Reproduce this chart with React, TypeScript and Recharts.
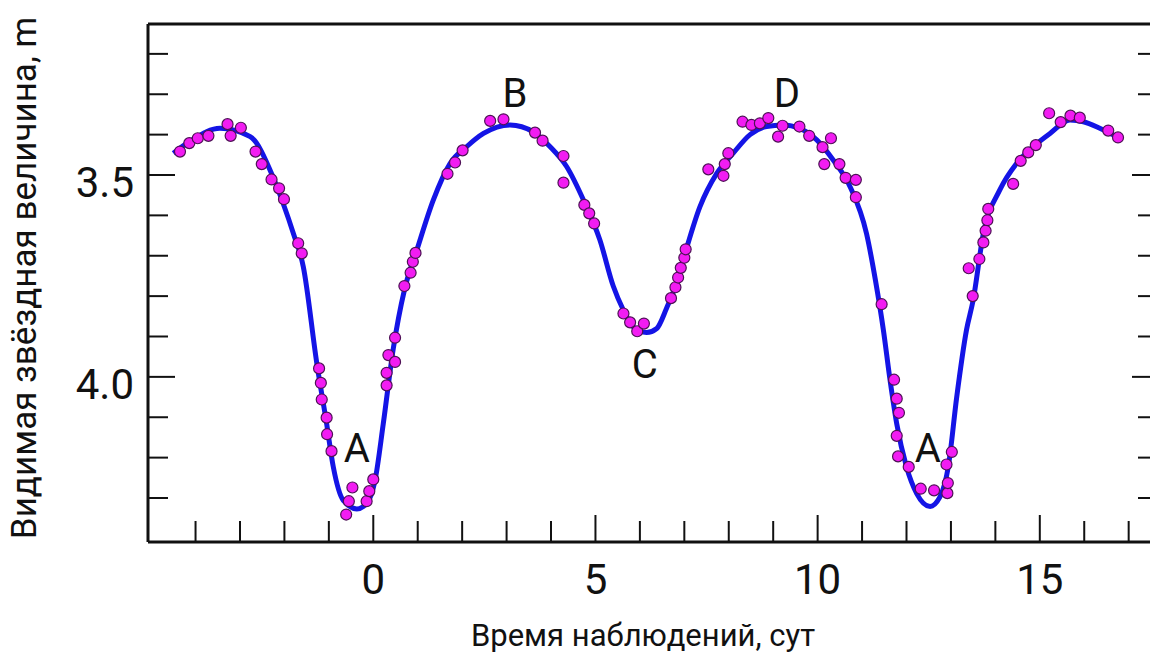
import { ComposedChart, Line, Scatter, XAxis, YAxis, Label } from 'recharts'

// fitted light curve (time, magnitude)
const curveT = [
  -4.5, -4.13, -3.45, -2.77, -2.26, -2.03, -1.8, -1.575, -1.27, -1.05, -0.9, -0.675, -0.37, -0.15, 0.04, 0.225,
  0.45, 0.7, 0.98, 1.35, 1.73, 2.1, 2.48, 3.08, 3.6, 3.98, 4.35, 4.73, 5.1, 5.4, 5.63, 5.85, 6.15, 6.38, 6.6,
  6.8, 7.0, 7.35, 7.73, 8.1, 8.48, 8.85, 9.22, 9.6, 9.98, 10.35, 10.73, 11.1, 11.3, 11.48, 11.63, 11.78, 12.0,
  12.23, 12.53, 12.75, 12.94, 13.13, 13.35, 13.5, 13.73, 14.1, 14.48, 14.85, 15.23, 15.68, 15.98, 16.35, 16.8,
]
const curveM = [
  3.446, 3.417, 3.384, 3.405, 3.504, 3.57, 3.644, 3.727, 3.967, 4.116, 4.223, 4.306, 4.327, 4.314, 4.256, 4.116,
  3.93, 3.785, 3.686, 3.562, 3.471, 3.43, 3.397, 3.376, 3.393, 3.43, 3.479, 3.562, 3.661, 3.775, 3.835, 3.876,
  3.89, 3.88, 3.83, 3.775, 3.7, 3.579, 3.496, 3.446, 3.4, 3.38, 3.376, 3.385, 3.413, 3.463, 3.529, 3.645, 3.76,
  3.884, 4.008, 4.116, 4.223, 4.289, 4.321, 4.298, 4.223, 4.05, 3.884, 3.81, 3.645, 3.537, 3.471, 3.43, 3.397,
  3.364, 3.368, 3.384, 3.409,
]

// observations
const obsT = [
  -4.35, -4.14, -3.95, -3.71, -3.28, -3.21, -2.98, -2.65, -2.51, -2.29, -2.12, -2.01, -1.69, -1.61,
  -1.22, -1.18, -1.16, -1.05, -1.04, -0.94, -0.61, -0.55, -0.47, -0.15, -0.09, 0.0, 0.3, 0.3, 0.34, 0.49, 0.49,
  0.7, 0.84, 0.89, 0.95, 1.67, 1.84, 2.01, 2.63, 2.93, 3.64, 3.81, 4.28, 4.28, 4.75, 4.86, 4.97,
  5.63, 5.78, 5.94, 6.09, 6.7, 6.8, 6.86, 6.92, 7.0, 7.03, 7.54, 7.88, 7.91, 7.99, 8.31,
  8.51, 8.7, 8.89, 9.11, 9.21, 9.59, 9.81, 10.11, 10.3, 10.15, 10.49, 10.63, 10.86, 10.86,
  11.44, 11.72, 11.78, 11.83, 11.78, 11.81, 12.05, 12.32, 12.62, 12.92, 12.93, 12.9, 13.02,
  13.4, 13.49, 13.64, 13.73, 13.78, 13.82, 13.84, 14.4, 14.57, 14.74, 14.91, 15.21, 15.47, 15.69, 15.9, 16.54, 16.76,
]
const obsM = [
  3.442, 3.421, 3.409, 3.403, 3.374, 3.403, 3.383, 3.442, 3.473, 3.511, 3.533, 3.56, 3.669, 3.694,
  3.979, 4.015, 4.056, 4.101, 4.142, 4.184, 4.341, 4.308, 4.274, 4.308, 4.283, 4.254, 3.99, 4.021, 3.946, 3.963, 3.903,
  3.775, 3.742, 3.715, 3.693, 3.497, 3.469, 3.439, 3.366, 3.362, 3.395, 3.415, 3.453, 3.519, 3.574, 3.595, 3.62,
  3.843, 3.865, 3.887, 3.868, 3.805, 3.778, 3.754, 3.73, 3.705, 3.684, 3.486, 3.502, 3.473, 3.446, 3.368,
  3.376, 3.372, 3.359, 3.405, 3.378, 3.38, 3.403, 3.431, 3.409, 3.473, 3.473, 3.507, 3.512, 3.555,
  3.82, 4.007, 4.054, 4.089, 4.146, 4.197, 4.223, 4.277, 4.281, 4.288, 4.263, 4.217, 4.186,
  3.731, 3.8, 3.708, 3.667, 3.638, 3.612, 3.584, 3.522, 3.465, 3.444, 3.426, 3.347, 3.369, 3.353, 3.358, 3.39, 3.407,
]

// letter marks
const markNames = ['A', 'B', 'C', 'D', 'A']
const markT = [-0.37, 3.19, 6.11, 9.31, 12.48]
const markM = [4.212, 3.331, 4.003, 3.331, 4.212]

const tTicks = [-4, -3, -2, -1, 0, 1, 2, 3, 4, 5, 6, 7, 8, 9, 10, 11, 12, 13, 14, 15, 16, 17]
const tLabels = [0, 5, 10, 15]
const mTicks = [3.2, 3.3, 3.4, 3.5, 3.6, 3.7, 3.8, 3.9, 4.0, 4.1, 4.2, 4.3]
const mLabels = [3.5, 4.0]

const tDomain = [-5.07, 17.66]
const mDomain = [3.126, 4.409]

const curve = curveT.map((t, i) => ({ t, m: curveM[i] }))
const obs = obsT.map((t, i) => ({ t, m: obsM[i] }))
const marks = markT.map((t, i) => ({ t, m: markM[i], name: markNames[i] }))

const ink = '#111'

const TimeTick = (props: any) => {
  const { x, y, payload } = props
  const major = tLabels.includes(payload.value)
  return (
    <g>
      <line x1={x} x2={x} y1={y} y2={y - (major ? 27 : 21)} stroke={ink} strokeWidth={2} />
      {major && (
        <text x={x} y={y + 52} textAnchor="middle" fontSize={42} fill={ink}>
          {payload.value}
        </text>
      )}
    </g>
  )
}

const MagTickLeft = (props: any) => {
  const { x, y, payload } = props
  const major = mLabels.some((v) => Math.abs(v - payload.value) < 1e-6)
  return (
    <g>
      <line x1={x} x2={x + (major ? 27 : 20)} y1={y} y2={y} stroke={ink} strokeWidth={2} />
      {major && (
        <text x={x - 14} y={y + 22} textAnchor="end" fontSize={42} fill={ink}>
          {payload.value.toFixed(1)}
        </text>
      )}
    </g>
  )
}

const MagTickRight = (props: any) => {
  const { x, y, payload } = props
  const major = mLabels.some((v) => Math.abs(v - payload.value) < 1e-6)
  return <line x1={x} x2={x - (major ? 26 : 20)} y1={y} y2={y} stroke={ink} strokeWidth={2} />
}

const Dot = (props: any) => <circle cx={props.cx} cy={props.cy} r={5.5} fill="#f21cf2" stroke="#4d1155" strokeWidth={1.2} />

const Mark = (props: any) => (
  <text x={props.cx} y={props.cy} textAnchor="middle" fontSize={40} fill={ink}>
    {props.payload.name}
  </text>
)

export default function App() {
  return (
    <div
      style={{
        position: 'fixed',
        left: 0,
        top: 0,
        width: 1150,
        height: 656,
        overflow: 'hidden',
        background: '#fff',
        fontFamily: 'Roboto, sans-serif',
      }}
    >
      <ComposedChart width={1170} height={656} margin={{ top: 23, right: 0, bottom: 0, left: 0 }}>
        <XAxis
          dataKey="t"
          type="number"
          domain={tDomain}
          allowDataOverflow
          ticks={tTicks}
          interval={0}
          tickSize={0}
          tickMargin={0}
          tickLine={false}
          tick={<TimeTick />}
          height={114}
          axisLine={{ stroke: ink, strokeWidth: 3 }}
        >
          <Label
            content={(p: any) => (
              <text x={p.viewBox.x + p.viewBox.width / 2 - 10} y={p.viewBox.y + 104} textAnchor="middle" fontSize={31} fill={ink}>
                Время наблюдений, сут
              </text>
            )}
          />
        </XAxis>
        <XAxis
          xAxisId="top"
          orientation="top"
          type="number"
          domain={tDomain}
          allowDataOverflow
          height={1}
          tick={false}
          tickLine={false}
          axisLine={{ stroke: ink, strokeWidth: 3 }}
        />
        <YAxis
          dataKey="m"
          type="number"
          reversed
          domain={mDomain}
          allowDataOverflow
          ticks={mTicks}
          interval={0}
          tickSize={0}
          tickMargin={0}
          tickLine={false}
          tick={<MagTickLeft />}
          width={148}
          axisLine={{ stroke: ink, strokeWidth: 3 }}
        >
          <Label
            content={() => (
              <text x={36} y={278} transform="rotate(-90 36 278)" textAnchor="middle" fontSize={35} fill={ink}>
                Видимая звёздная величина, m
              </text>
            )}
          />
        </YAxis>
        <YAxis
          yAxisId="right"
          orientation="right"
          type="number"
          reversed
          domain={mDomain}
          allowDataOverflow
          ticks={mTicks}
          interval={0}
          tickSize={0}
          tickMargin={0}
          tickLine={false}
          tick={<MagTickRight />}
          width={12}
          axisLine={{ stroke: ink, strokeWidth: 3 }}
        />
        <Line data={curve} dataKey="m" type="monotone" stroke="#1414e6" strokeWidth={5} dot={false} isAnimationActive={false} />
        <Scatter data={obs} shape={<Dot />} isAnimationActive={false} />
        <Scatter data={marks} shape={<Mark />} isAnimationActive={false} />
      </ComposedChart>
    </div>
  )
}
